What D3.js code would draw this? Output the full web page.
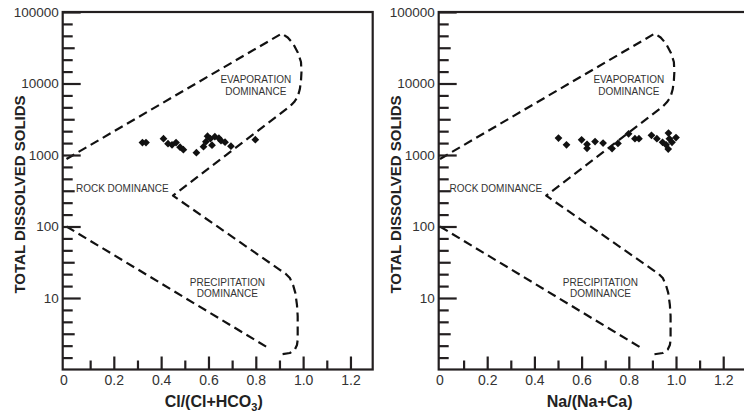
<!DOCTYPE html>
<html><head><meta charset="utf-8">
<script src="https://cdn.jsdelivr.net/npm/d3@7"></script>
<style>
body{margin:0;background:#fff}
svg{display:block}
text{font-family:"Liberation Sans",Arial,Helvetica,sans-serif}
</style>
</head><body>
<svg id="chart" width="744" height="412"></svg>
<script>
// ---- tick values / labels ----
const xTicksMajor = [0, 0.2, 0.4, 0.6, 0.8, 1.0, 1.2];
const xTickLabels = ["0", "0.2", "0.4", "0.6", "0.8", "1.0", "1.2"];
const xTicksMinor = [0.1, 0.3, 0.5, 0.7, 0.9, 1.1];
const yTicksMajor = [10, 100, 1000, 10000, 100000];
const yTickLabels = ["10", "100", "1000", "10000", "100000"];

// ---- sample data: Cl/(Cl+HCO3) vs TDS ----
const clRatio = [0.321, 0.336, 0.410, 0.429, 0.446, 0.463, 0.480, 0.494, 0.549, 0.579,
                 0.589, 0.596, 0.608, 0.615, 0.627, 0.644, 0.653, 0.670, 0.695, 0.798];
const clTDS   = [1490, 1490, 1690, 1440, 1390, 1490, 1285, 1186, 1077, 1306,
                 1535, 1832, 1690, 1371, 1803, 1718, 1585, 1510, 1327, 1637];

// ---- sample data: Na/(Na+Ca) vs TDS ----
const naRatio = [0.502, 0.536, 0.600, 0.623, 0.623, 0.657, 0.691, 0.729, 0.754, 0.799,
                 0.826, 0.843, 0.896, 0.919, 0.943, 0.958, 0.968, 0.972, 0.967, 1.000, 0.983];
const naTDS   = [1722, 1388, 1630, 1410, 1241, 1544, 1466, 1228, 1449, 1977,
                 1694, 1694, 1884, 1694, 1505, 1388, 2023, 1683, 1209, 1750, 1505];

// ---- Gibbs boundary lines ----
const outerX = [0, 0.91, 0.935, 0.958, 0.978, 0.991, 0.993, 0.991, 0.986, 0.977, 0.962, 0.945,
                0.45, 0.90, 0.925, 0.944, 0.958, 0.967, 0.974, 0.977, 0.977, 0.974, 0.965, 0.944, 0.90];
const outerY = [880, 50000, 44000, 36000, 27000, 20000, 14500, 11000, 8300, 6500, 5500, 4800,
                270, 25, 22, 19, 15, 11.8, 8, 5.6, 2.6, 2.2, 1.9, 1.7, 1.62];
const lowerX = [0, 0.853];
const lowerY = [100, 2.0];

const regionNames = ["EVAPORATION", "DOMINANCE", "ROCK DOMINANCE", "PRECIPITATION", "DOMINANCE"];

const svg = d3.select("#chart");
const INK = "#231f20";
const TOP = 12, BOTTOM = 369.5, PW = 310;

const y = d3.scaleLog().domain([1, 100000]).range([BOTTOM, TOP]);

const panels = [
  {ox: 62.7, dom: [-0.016, 1.294], xs: clRatio, ys: clTDS, title: ["Cl/(Cl+HCO", "3", ")"]},
  {ox: 438.7, dom: [-0.0055, 1.308], xs: naRatio, ys: naTDS, title: ["Na/(Na+Ca)", "", ""]}
];

panels.forEach(p => {
  const x = d3.scaleLinear().domain(p.dom).range([0, PW]);
  const g = svg.append("g").attr("transform", `translate(${p.ox},0)`);

  // boundaries
  const line = d3.line().x(d => x(d[0])).y(d => y(d[1]));
  const outer = outerX.map((v, i) => [v, outerY[i]]);
  const lower = lowerX.map((v, i) => [v, lowerY[i]]);
  [outer, lower].forEach(pts => {
    g.append("path").attr("d", line(pts)).attr("fill", "none")
      .attr("stroke", "#111").attr("stroke-width", 2.2).attr("stroke-dasharray", "9,5")
      .attr("stroke-linejoin", "round");
  });

  // x axis
  const gxMinor = g.append("g").attr("transform", `translate(0,${BOTTOM})`)
    .call(d3.axisBottom(x).tickValues(xTicksMinor).tickFormat("").tickSizeInner(-9).tickSizeOuter(0));
  const gx = g.append("g").attr("transform", `translate(0,${BOTTOM})`)
    .call(d3.axisBottom(x).tickValues(xTicksMajor).tickFormat((d, i) => xTickLabels[i])
      .tickSizeInner(-13).tickSizeOuter(0).tickPadding(6));
  gx.selectAll(".tick").filter(d => d === 0).select("line").remove();
  gx.selectAll(".tick").filter(d => d === 0).select("text").attr("x", 0.6 - x(0));
  [gx, gxMinor].forEach(a => {
    a.select(".domain").remove();
    a.selectAll("line").attr("stroke", INK).attr("stroke-width", 2.2);
  });
  gx.selectAll("text").attr("font-size", 14).attr("fill", "#333").attr("font-family", null);

  // y axis
  const minor = [], mid = [];
  for (let dcd = 0; dcd < 5; dcd++) for (let k = 1; k < 6; k++) (k === 3 ? mid : minor).push(Math.pow(10, dcd + k / 6));
  const gyMinor = g.append("g").call(d3.axisLeft(y).tickValues(minor).tickFormat("").tickSizeInner(-10).tickSizeOuter(0));
  const gyMid = g.append("g").call(d3.axisLeft(y).tickValues(mid).tickFormat("").tickSizeInner(-12).tickSizeOuter(0));
  const gy = g.append("g").call(d3.axisLeft(y).tickValues(yTicksMajor).tickFormat((d, i) => yTickLabels[i])
    .tickSizeInner(-18).tickSizeOuter(0).tickPadding(4));
  [gy, gyMid, gyMinor].forEach(a => {
    a.select(".domain").remove();
    a.selectAll("line").attr("stroke", INK).attr("stroke-width", 2.2);
  });
  gy.selectAll("text").attr("font-size", 13.5).attr("fill", "#333").attr("font-family", null);

  // frame
  g.append("rect").attr("x", 0).attr("y", TOP).attr("width", PW).attr("height", BOTTOM - TOP)
    .attr("fill", "none").attr("stroke", INK).attr("stroke-width", 2.2);

  // points
  const sym = d3.symbol(d3.symbolSquare, 30);
  g.append("g").selectAll("path").data(p.xs.map((v, i) => [v, p.ys[i]])).join("path")
    .attr("d", sym)
    .attr("transform", d => `translate(${x(d[0])},${y(d[1])}) rotate(45)`)
    .attr("fill", "#111");

  // region labels
  const lab = (txt, xv, yv, anchor) => g.append("text").attr("x", x(xv)).attr("y", y(yv))
    .attr("text-anchor", anchor).attr("dy", "0.35em").attr("font-size", 10).attr("fill", "#333").text(txt);
  lab(regionNames[0], 0.80, Math.pow(10, 4.05), "middle");
  lab(regionNames[1], 0.80, Math.pow(10, 3.895), "middle");
  lab(regionNames[2], 0.04, Math.pow(10, 2.53), "start");
  lab(regionNames[3], 0.68, Math.pow(10, 1.22), "middle");
  lab(regionNames[4], 0.68, Math.pow(10, 1.065), "middle");

  // axis titles
  const t = g.append("text").attr("x", 151).attr("y", 407).attr("text-anchor", "middle")
    .attr("font-size", 16).attr("font-weight", "bold").attr("fill", "#222");
  t.append("tspan").text(p.title[0]);
  if (p.title[1]) {
    t.append("tspan").attr("font-size", 11).attr("dy", 4).text(p.title[1]);
    t.append("tspan").attr("dy", -4).text(p.title[2]);
  }
  g.append("text").attr("transform", `translate(-43,194.5) rotate(-90)`).attr("text-anchor", "middle")
    .attr("dy", "0.35em").attr("font-size", 15).attr("font-weight", "bold").attr("fill", "#222")
    .text("TOTAL DISSOLVED SOLIDS");
});
</script>
</body></html>
